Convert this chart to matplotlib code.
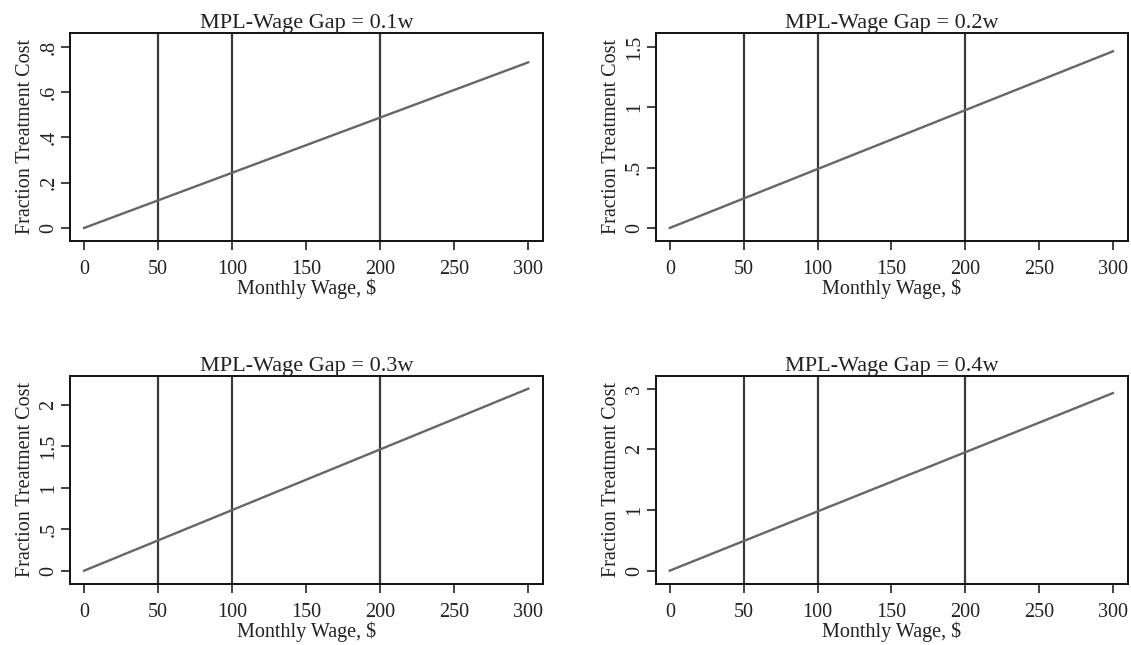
import matplotlib
matplotlib.use("Agg")
import matplotlib.pyplot as plt

plt.rcParams['font.family'] = ['Liberation Serif', 'DejaVu Serif']

# data
gaps = ["0.1w", "0.2w", "0.3w", "0.4w"]
wage = [0, 300]
cost = [[0, 0.732], [0, 1.464], [0, 2.196], [0, 2.928]]
cutoffs = [50, 100, 200]
xticks = [0, 50, 100, 150, 200, 250, 300]
yticks = [[0, 0.2, 0.4, 0.6, 0.8],
          [0, 0.5, 1, 1.5],
          [0, 0.5, 1, 1.5, 2],
          [0, 1, 2, 3]]
ylabels = [["0", ".2", ".4", ".6", ".8"],
           ["0", ".5", "1", "1.5"],
           ["0", ".5", "1", "1.5", "2"],
           ["0", "1", "2", "3"]]
ylims = [(-0.0575, 0.862), (-0.108, 1.616), (-0.16, 2.35), (-0.22, 3.21)]

fig = plt.figure(figsize=(11.31, 6.45), dpi=100)
# panel boxes in figure fractions
boxes = [[0.0619, 0.6264, 0.4182, 0.3225],
         [0.5798, 0.6264, 0.4173, 0.3225],
         [0.0619, 0.0946, 0.4182, 0.3225],
         [0.5798, 0.0946, 0.4173, 0.3225]]

for i in range(4):
    ax = fig.add_axes(boxes[i])
    for c in cutoffs:
        ax.axvline(c, color='#3a3a3a', lw=1.6, zorder=1)
    ax.plot(wage, cost[i], color='#666666', lw=1.7, zorder=2)
    ax.set_xlim(-9.5, 310)
    ax.set_ylim(ylims[i])
    ax.set_xticks(xticks)
    ax.set_yticks(yticks[i])
    ax.set_yticklabels(ylabels[i], rotation=90, va='center')
    ax.tick_params(direction='out', length=6.5, width=1.2, labelsize=14.5,
                   colors='#222222')
    ax.tick_params(axis='x', pad=7)
    ax.tick_params(axis='y', pad=2)
    for s in ax.spines.values():
        s.set_linewidth(1.4)
        s.set_color('#111111')
    ax.set_title("MPL-Wage Gap = " + gaps[i], fontsize=16, pad=3, color='#222222')
    ax.set_xlabel(r"Monthly Wage, \$", fontsize=14.5, labelpad=0, color='#222222')
    ax.set_ylabel("Fraction Treatment Cost", fontsize=14.5, labelpad=3, color='#222222')

fig.savefig("out.png", dpi=100, facecolor='white')
